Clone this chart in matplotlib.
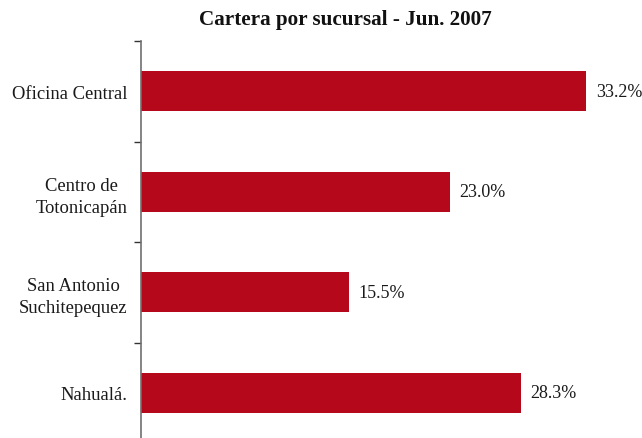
import matplotlib
matplotlib.use("Agg")
import matplotlib.pyplot as plt
from matplotlib.ticker import FixedLocator, NullFormatter

branches = ["Oficina Central", "Centro de\nTotonicapán", "San Antonio\nSuchitepequez", "Nahualá."]
shares = [33.2, 23.0, 15.5, 28.3]
value_labels = ["33.2%", "23.0%", "15.5%", "28.3%"]
title = "Cartera por sucursal - Jun. 2007"

plt.rcParams["font.family"] = ["Liberation Serif", "DejaVu Serif"]

fig = plt.figure(figsize=(6.42, 4.39), dpi=100)
ax = fig.add_axes([141 / 642, -5 / 439, 483 / 642, 402 / 439])

n = len(branches)
ypos = list(range(n))
ax.barh(ypos, shares, height=0.4, color="#B5081A", zorder=2)
ax.set_ylim(n - 0.5, -0.5)
ax.set_xlim(0, 36)

for y, v, lab in zip(ypos, shares, value_labels):
    ax.annotate(lab, xy=(v, y), xytext=(7, 0), textcoords="offset points",
                ha="left", va="center", fontsize=13, color="#1a1a1a")

ax.yaxis.set_major_locator(FixedLocator([i - 0.5 for i in range(n + 1)]))
ax.yaxis.set_major_formatter(NullFormatter())
ax.yaxis.set_minor_locator(FixedLocator(ypos))
ax.set_yticklabels(branches, minor=True, fontsize=13.4, color="#1a1a1a")
ax.tick_params(axis="y", which="major", length=5, width=1, color="#333333", direction="out")
ax.tick_params(axis="y", which="minor", length=0, pad=9.5)
for t in ax.get_yticklabels(minor=True):
    t.set_multialignment("center")
    t.set_linespacing(1.4)

ax.xaxis.set_visible(False)
for side in ("top", "right", "bottom"):
    ax.spines[side].set_visible(False)
ax.spines["left"].set_color("#707070")
ax.spines["left"].set_linewidth(1.2)

fig.text(345 / 642, 1 - 20 / 439, title, ha="center", va="center",
         fontsize=15.2, fontweight="bold", color="#111111")

fig.savefig("out.png", dpi=100)
